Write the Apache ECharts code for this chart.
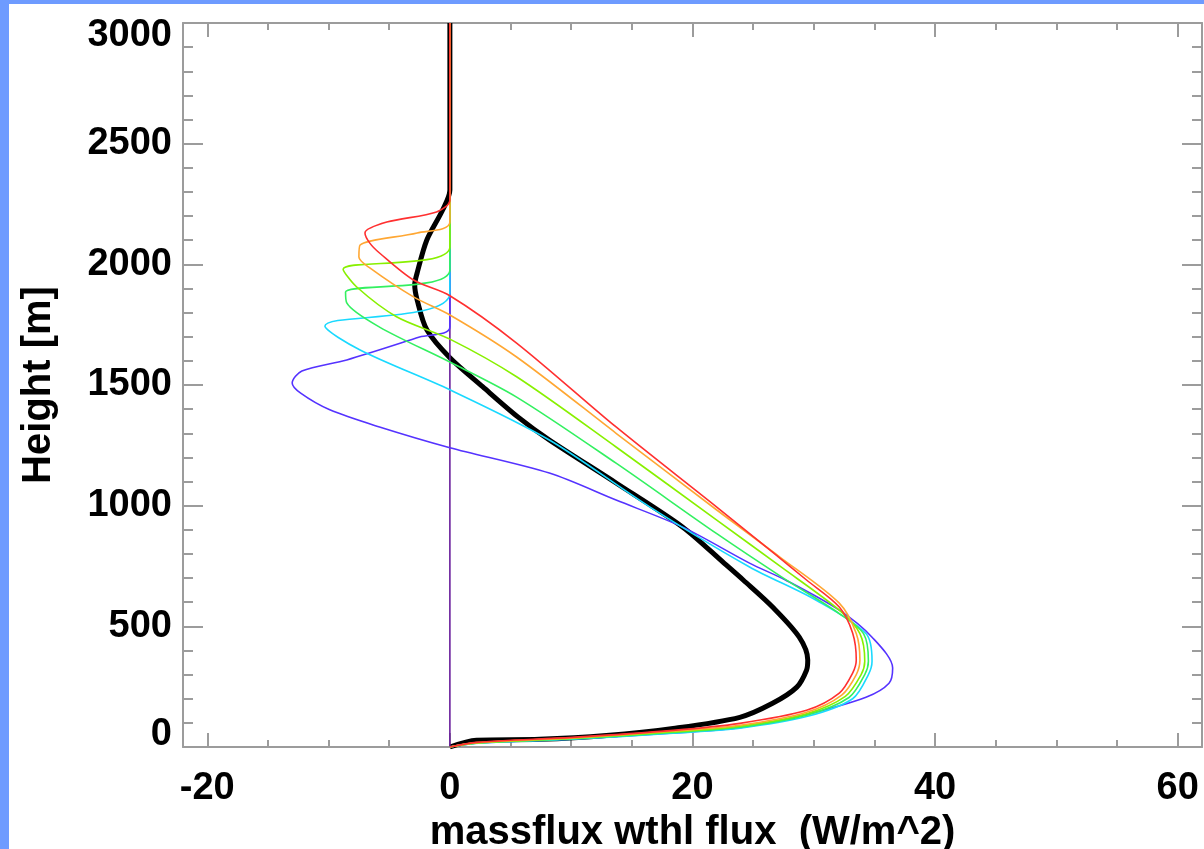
<!DOCTYPE html>
<html>
<head>
<meta charset="utf-8">
<script src="https://cdn.jsdelivr.net/npm/echarts@6/dist/echarts.min.js"></script>
<style>
  html, body { margin: 0; padding: 0; background: #6e9bff; width: 100%; height: 100%; overflow: hidden; }
  .chart { position: absolute; left: 9px; top: 4px; right: 0; bottom: 0; background: #fff; }
</style>
</head>
<body>
<div class="chart"></div>
<script>
// x = flux (W/m^2), y = height (m)
const meanProfile = [[0,0],[2.2,28],[7.4,32],[12.9,48],[18.4,77],[23.9,123],[26.6,181],[28.6,248],[29.4,318],[29.5,360],
  [28.8,455],[26.6,580],[24.2,691],[22.6,762],[19.2,911],[13.7,1094],[8.2,1272],[5.6,1368],[2.7,1493],[0,1613],
  [-1.9,1729],[-2.7,1853],[-2.9,1915],[-2.7,1964],[-1.9,2101],[-0.6,2225],[0,2308],[0,3000]];
const purple = [[0,0],[0,3000]];
const blue = [[0,0],[1.9,15],[10.1,33],[18.4,58],[23.9,80],[29.4,135],[34.3,206],[36.2,264],[36.5,327],[34.8,455],
  [32.1,567],[27.7,691],[24.7,762],[19.2,911],[13.7,1023],[8.2,1135],[0,1240],[-5.8,1326],[-9.9,1397],[-12.3,1466],
  [-13.0,1508],[-12.2,1558],[-8.5,1604],[-2.5,1699],[0,1740],[0,3000]];
const cyan = [[0,0],[2.0,15],[10.1,32],[18.4,57],[23.9,78],[29.4,126],[33.2,200],[34.5,300],[34.8,355],[34.3,470],
  [30.2,608],[24.7,746],[16.5,994],[8.2,1272],[0,1480],[-7.4,1645],[-10.3,1744],[0,1881],[0,3000]];
const green = [[0,0],[2.2,16],[10.1,34],[18.4,60],[23.9,82],[29.4,132],[32.9,205],[34.2,300],[34.5,355],[34.1,470],
  [32.1,553],[27.4,703],[22.0,884],[13.7,1176],[5.5,1450],[0,1595],[-5.8,1740],[-8.5,1840],[-8.6,1885],[0,1977],[0,3000]];
const yellowGreen = [[0,0],[2.2,17],[10.1,36],[18.4,63],[23.9,86],[29.4,138],[32.6,210],[33.9,300],[34.2,355],[33.8,470],
  [32.1,567],[27.3,746],[22.0,940],[13.7,1243],[5.5,1534],[0,1690],[-4.4,1783],[-7.7,1907],[-8.8,1980],[0,2072],[0,3000]];
const orange = [[0,0],[2.2,18],[10.1,38],[18.4,66],[23.9,90],[29.4,144],[32.3,215],[33.5,300],[33.8,360],[33.5,470],
  [32.1,596],[27.2,787],[22.0,982],[13.7,1300],[5.5,1616],[0,1790],[-3.0,1865],[-6.6,1985],[-7.5,2030],[-7.4,2080],
  [-2.7,2130],[0,2175],[0,3000]];
const red = [[0,0],[2.2,19],[10.1,40],[18.4,69],[23.9,98],[29.4,152],[32.1,223],[33.2,306],[33.5,360],[33.2,472],
  [32.1,580],[29.4,692],[26.7,803],[22.0,994],[13.7,1326],[5.5,1674],[0,1870],[-3.0,1935],[-5.8,2047],[-6.6,2088],
  [-7.0,2130],[-5.2,2175],[-1.1,2217],[0,2267],[0,3000]];

const xMajor = [-20, 0, 20, 40, 60];
const xMinor = [-15, -10, -5, 5, 10, 15, 25, 30, 35, 45, 50, 55];

const axisGray = "#9c9c9c";
const font = { fontFamily: "Liberation Sans", fontWeight: "bold", color: "#000" };

function xAxisDef(pos, ticks, len, withLine, withLabels) {
  return {
    type: "value", position: pos, min: -22, max: 62,
    axisLine: { show: withLine, onZero: false, lineStyle: { color: axisGray, width: 2 } },
    axisTick: { show: true, inside: true, length: len, customValues: ticks, lineStyle: { color: axisGray, width: 2 } },
    axisLabel: withLabels
      ? Object.assign({ show: true, customValues: xMajor, fontSize: 38, margin: 23 }, font)
      : { show: false },
    splitLine: { show: false },
    name: withLabels ? "massflux wthl flux  (W/m^2)" : "",
    nameLocation: "middle",
    nameGap: 61,
    nameTextStyle: Object.assign({ fontSize: 40 }, font),
  };
}

function yAxisDef(pos, withLabels) {
  return {
    type: "value", position: pos, min: 0, max: 3000, interval: 500,
    axisLine: { show: true, onZero: false, lineStyle: { color: axisGray, width: 2 } },
    axisTick: { show: true, inside: true, length: 20, lineStyle: { color: axisGray, width: 2 } },
    minorTick: { show: true, splitNumber: 5, length: 10, lineStyle: { color: axisGray, width: 2 } },
    axisLabel: withLabels
      ? Object.assign({
          show: true, fontSize: 38, margin: 11,
          formatter: function (v) {
            if (v === 3000) return "{d|3000}";
            if (v === 0) return "{u|0}";
            return String(v);
          },
          rich: {
            d: Object.assign({ fontSize: 38, padding: [26, 0, 0, 0] }, font),
            u: Object.assign({ fontSize: 38, padding: [0, 0, 24, 0] }, font),
          },
        }, font)
      : { show: false },
    splitLine: { show: false },
    minorSplitLine: { show: false },
    name: withLabels ? "Height [m]" : "",
    nameLocation: "middle",
    nameGap: 124,
    nameRotate: 90,
    nameTextStyle: Object.assign({ fontSize: 40 }, font),
  };
}

function profile(data, color, width) {
  return {
    type: "line", data: data, showSymbol: false, symbol: "none",
    smooth: 0.3,
    xAxisIndex: 0, yAxisIndex: 0,
    lineStyle: { color: color, width: width },
    emphasis: { disabled: true },
  };
}

const chart = echarts.init(document.querySelector(".chart"), null, { renderer: "canvas" });
chart.setOption({
  animation: false,
  backgroundColor: "#fff",
  grid: { left: 174, top: 19, right: 2, bottom: 102, containLabel: false, outerBoundsMode: "none" },
  xAxis: [
    xAxisDef("bottom", xMajor, 14, true, true),
    xAxisDef("bottom", xMinor, 7, false, false),
    xAxisDef("top", xMajor, 14, true, false),
    xAxisDef("top", xMinor, 7, false, false),
  ],
  yAxis: [yAxisDef("left", true), yAxisDef("right", false)],
  series: [
    profile(meanProfile, "#000", 5),
    profile(purple, "#6a1f9c", 1.6),
    profile(blue, "#5533ff", 1.6),
    profile(cyan, "#1ad9ff", 1.6),
    profile(green, "#33f060", 1.6),
    profile(yellowGreen, "#88f000", 1.6),
    profile(orange, "#ffa733", 1.6),
    profile(red, "#ff3030", 1.6),
  ],
});
</script>
</body>
</html>
